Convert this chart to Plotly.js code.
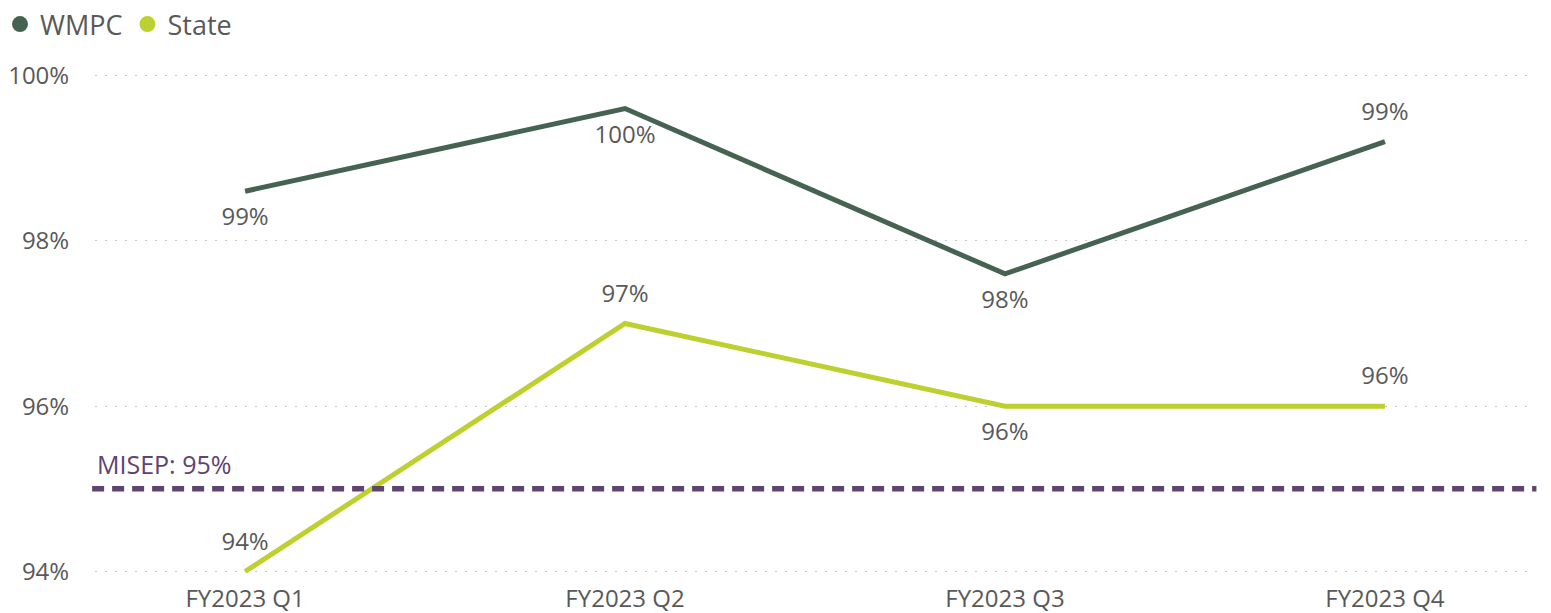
<!DOCTYPE html>
<html><head><meta charset="utf-8">
<script src="https://cdn.plot.ly/plotly-3.0.1.min.js"></script>
<style>html,body{margin:0;padding:0;background:#fff}#chart{width:1551px;height:613px}</style>
</head><body><div id="chart"></div>
<script>
const categories = ["FY2023 Q1", "FY2023 Q2", "FY2023 Q3", "FY2023 Q4"];
const wmpcValues = [98.6, 99.6, 97.6, 99.2];
const wmpcLabels = ["99%", "100%", "98%", "99%"];
const stateValues = [94.0, 97.0, 96.0, 96.0];
const stateLabels = ["94%", "97%", "96%", "96%"];
const misepValue = 95;
const misepLabel = "MISEP: 95%";
const yTickVals = [94, 96, 98, 100];
const yTickText = ["94%", "96%", "98%", "100%"];

const FONT = "Open Sans, sans-serif";
const GRAY = "#595959";
const WMPC_C = "#466352";
const STATE_C = "#bdd030";
const PURPLE = "#5f4370";

const traces = [
  {x: categories, y: wmpcValues, text: wmpcLabels, mode: "lines+markers+text", name: "WMPC",
   showlegend: false, line: {color: WMPC_C, width: 5},
   marker: {size: 24, opacity: 0, color: WMPC_C},
   textposition: ["bottom center", "bottom center", "bottom center", "top center"],
   textfont: {family: FONT, size: 24, color: GRAY}, cliponaxis: false, hoverinfo: "skip"},
  {x: categories, y: stateValues, text: stateLabels, mode: "lines+markers+text", name: "State",
   showlegend: false, line: {color: STATE_C, width: 5},
   marker: {size: 24, opacity: 0, color: STATE_C},
   textposition: ["top center", "top center", "bottom center", "top center"],
   textfont: {family: FONT, size: 24, color: GRAY}, cliponaxis: false, hoverinfo: "skip"},
  {x: [null], y: [null], mode: "markers", name: "WMPC", marker: {size: 18, color: WMPC_C}},
  {x: [null], y: [null], mode: "markers", name: "State", marker: {size: 18, color: STATE_C}}
];

const layout = {
  width: 1551, height: 613,
  paper_bgcolor: "#fff", plot_bgcolor: "#fff",
  margin: {l: 95, r: 16, t: 72.5, b: 38.5},
  font: {family: FONT, color: GRAY},
  showlegend: true,
  legend: {orientation: "h", x: 0, xanchor: "left", xref: "container", yref: "container", y: 1, yanchor: "top",
           font: {family: FONT, size: 27, color: GRAY}, itemwidth: 30, tracegroupgap: 0, bgcolor: "rgba(0,0,0,0)"},
  xaxis: {type: "category", range: [-0.395, 3.395], showgrid: false, zeroline: false, showline: false,
          ticks: "outside", ticklen: 3, tickcolor: "rgba(0,0,0,0)",
          tickfont: {family: FONT, size: 24, color: GRAY}, fixedrange: true},
  yaxis: {range: [93.97, 100.03], tickvals: yTickVals, ticktext: yTickText,
          showgrid: true, gridcolor: "#c8c8c8", gridwidth: 1, griddash: "2px,8px",
          zeroline: false, showline: false, ticks: "outside", ticklen: 20, tickcolor: "rgba(0,0,0,0)",
          tickfont: {family: FONT, size: 24, color: GRAY}, fixedrange: true},
  shapes: [{type: "line", xref: "paper", x0: -0.002, x1: 1.001, yref: "y", y0: misepValue, y1: misepValue,
            line: {color: PURPLE, width: 5.5, dash: "12px,8px"}}],
  annotations: [{xref: "paper", x: 0, xanchor: "left", yref: "y", y: misepValue, yanchor: "bottom", yshift: 6,
                 text: misepLabel, showarrow: false, font: {family: FONT, size: 25, color: PURPLE}}]
};

Plotly.newPlot("chart", traces, layout, {displayModeBar: false, staticPlot: true});
</script></body></html>
